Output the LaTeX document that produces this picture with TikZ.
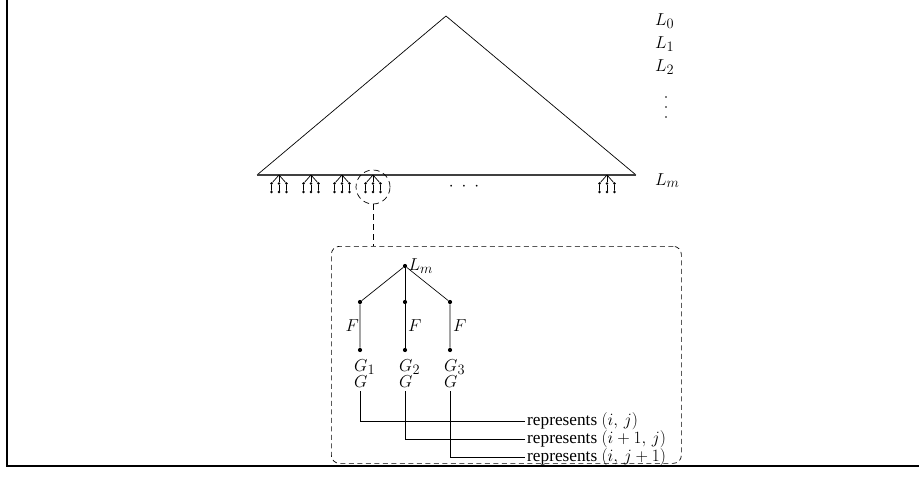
\documentclass[tikz,border=0pt]{standalone}
\usepackage[no-math]{fontspec}
\setmainfont{Liberation Serif}
\newcommand{\mfont}{\fontsize{19}{22}\selectfont}
\newcommand{\rfont}{\fontsize{17.5}{21}\selectfont}
\begin{document}
\begin{tikzpicture}[x=1pt,y=-1pt,
  frame/.style={line width=1.8pt},
  edge/.style={line width=0.7pt},
  baseedge/.style={line width=1.3pt, black!75},
  bigdot/.style={circle, fill, inner sep=0pt, minimum size=4.2pt},
  smalldot/.style={circle, fill, inner sep=0pt, minimum size=2.6pt},
  lab/.style={inner sep=1pt, font=\mfont},
  reptext/.style={inner sep=2pt, font=\LARGE},
  zoomline/.style={line width=0.7pt, dash pattern=on 6pt off 4pt},
  boxline/.style={line width=0.7pt, dash pattern=on 5pt off 3.5pt}]
\useasboundingbox (0,0) rectangle (919,482);
% frame
\draw[frame] (7,0) -- (7,466) -- (919,466);
% big triangle
\coordinate (apex) at (446,16);
\coordinate (bl) at (257,175);
\coordinate (br) at (636,175);
\draw[edge] (bl) -- (apex) -- (br);
\draw[baseedge] (bl) -- (br);
% level labels
\node[lab, anchor=base west] (l0) at (654,25) {$L_0$};
\node[lab, anchor=base west] (l1) at (654,48) {$L_1$};
\node[lab, anchor=base west] (l2) at (654,71) {$L_2$};
\foreach \y in {97,107,117} \fill (666,\y) circle (0.9pt);
\node[lab, anchor=base west] (lm) at (654,185) {$L_m$};
% small trees
\foreach \x [count=\i] in {279,311,342,373,607} {
  \coordinate (t\i) at (\x,175);
  \node[smalldot] (t\i a) at (\x-7.5,183.5) {};
  \node[smalldot] (t\i b) at (\x,183.5) {};
  \node[smalldot] (t\i c) at (\x+7.5,183.5) {};
  \node[smalldot] (t\i d) at (\x-7.5,192) {};
  \node[smalldot] (t\i e) at (\x,192) {};
  \node[smalldot] (t\i f) at (\x+7.5,192) {};
  \draw[edge] (t\i) -- (t\i a) -- (t\i d);
  \draw[edge] (t\i) -- (t\i b) -- (t\i e);
  \draw[edge] (t\i) -- (t\i c) -- (t\i f);
}
\node[lab] (dots) at (464,187) {$\cdot$\hspace{8pt}$\cdot$\hspace{8pt}$\cdot$};
% zoom circle and box
\node[zoomline, draw, circle, minimum size=34pt, inner sep=0pt] (zc) at (373,187) {};
\node[boxline, draw, rounded corners=8pt, minimum width=350pt, minimum height=217pt,
      anchor=north west, inner sep=0pt] (zb) at (331,246) {};
\draw[zoomline] (zc.south) -- (zc.south |- zb.north);
% zoomed tree
\node[bigdot] (r0) at (405,266) {};
\node[lab, anchor=west] (rl) at (r0.east) {$L_m$};
\node[bigdot] (m1) at (360,302) {};
\node[bigdot] (m2) at (405,302) {};
\node[bigdot] (m3) at (450,302) {};
\node[bigdot] (b1) at (360,350) {};
\node[bigdot] (b2) at (405,350) {};
\node[bigdot] (b3) at (450,350) {};
\draw[edge] (r0) -- (m1) -- (b1);
\draw[edge] (r0) -- (m2) -- (b2);
\draw[edge] (r0) -- (m3) -- (b3);
\path (m1) -- (b1) node[lab, midway, left] (f1) {$F$};
\path (m2) -- (b2) node[lab, midway, right, xshift=2pt] (f2) {$F$};
\path (m3) -- (b3) node[lab, midway, right, xshift=2pt] (f3) {$F$};
\node[lab, anchor=base west, inner sep=0pt] (g1) at (354,371) {$G_1$};
\node[lab, anchor=base west, inner sep=0pt] (g2) at (399,371) {$G_2$};
\node[lab, anchor=base west, inner sep=0pt] (g3) at (444,371) {$G_3$};
\node[lab, anchor=base west, inner sep=0pt] (h1) at (354,387) {$G$};
\node[lab, anchor=base west, inner sep=0pt] (h2) at (399,387) {$G$};
\node[lab, anchor=base west, inner sep=0pt] (h3) at (444,387) {$G$};
\node[reptext, anchor=west] (p1) at (525,421) {represents {\rfont$(i,\,j)$}};
\node[reptext, anchor=west] (p2) at (525,439) {represents {\rfont$(i+1,\,j)$}};
\node[reptext, anchor=west] (p3) at (525,457) {represents {\rfont$(i,\,j+1)$}};
\draw[edge] ([yshift=-4pt]b1 |- h1.south) |- (p1.west);
\draw[edge] ([yshift=-4pt]b2 |- h2.south) |- (p2.west);
\draw[edge] ([yshift=-4pt]b3 |- h3.south) |- (p3.west);
\end{tikzpicture}
\end{document}
